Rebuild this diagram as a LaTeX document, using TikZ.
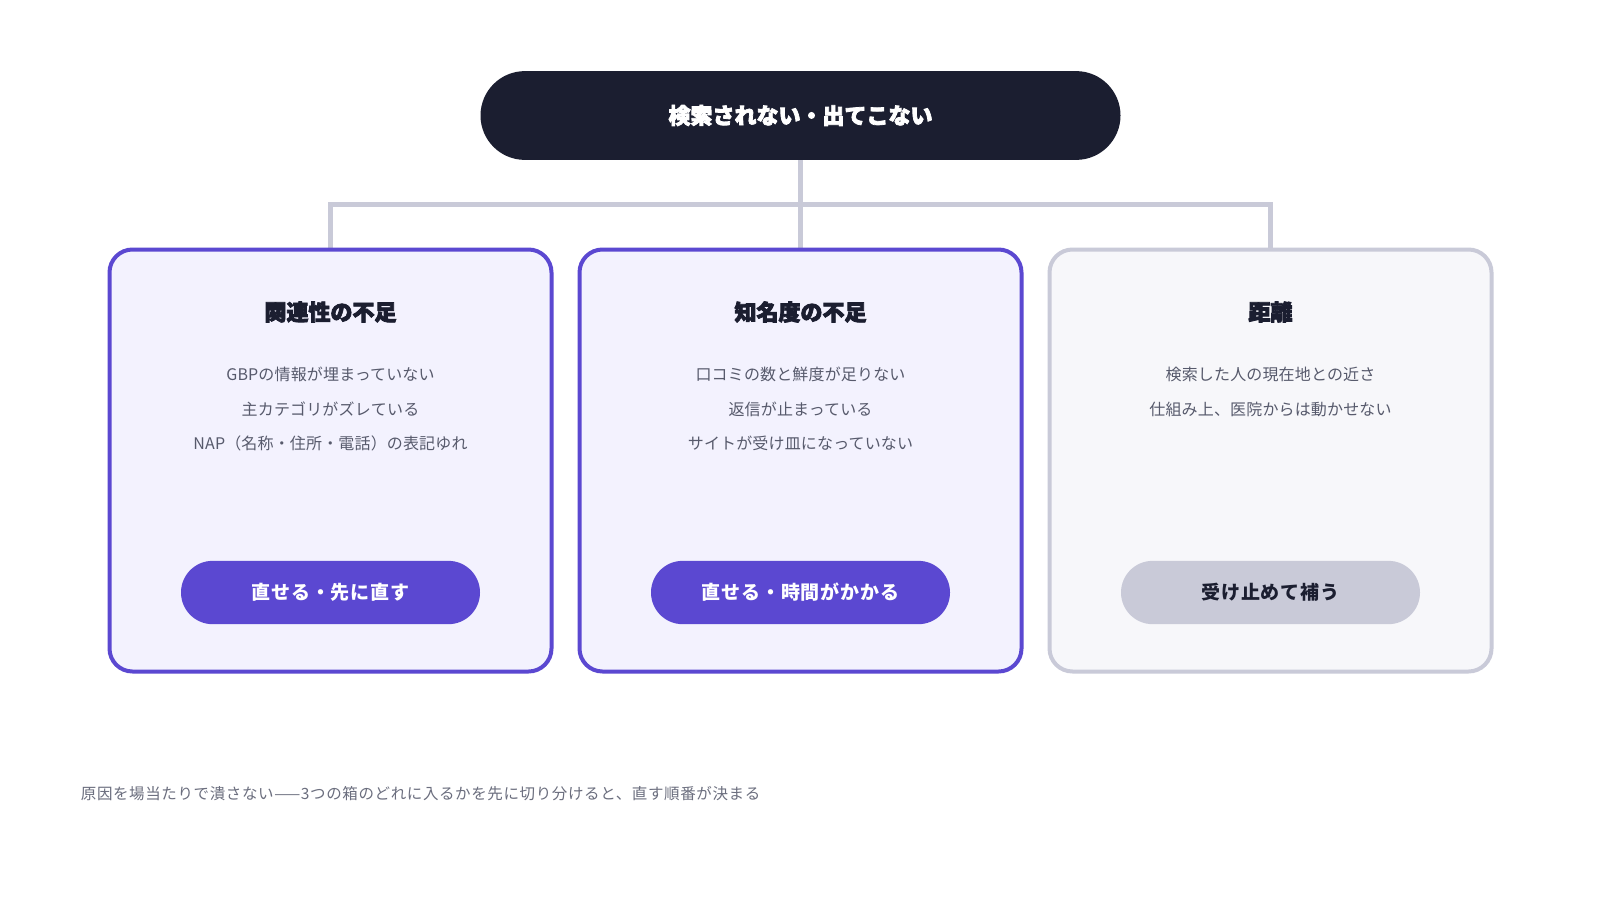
\documentclass[tikz,border=0pt]{standalone}
\usepackage{fontspec}
\usetikzlibrary{calc,backgrounds}
\setmainfont{Noto Sans CJK JP}
\newfontfamily\jpbody[LetterSpace=1]{Noto Sans CJK JP}
\newfontfamily\jpfoot[LetterSpace=4]{Noto Sans CJK JP}
\newfontfamily\jpbtn[LetterSpace=5]{Noto Sans CJK JP}
\newfontfamily\jphead[FakeBold=3.5]{Noto Sans CJK JP}
\definecolor{navy}{HTML}{1B1E30}
\definecolor{purp}{HTML}{5B48D1}
\definecolor{purpfill}{HTML}{F3F2FE}
\definecolor{conn}{HTML}{C9CAD8}
\definecolor{greyfill}{HTML}{F7F7FA}
\definecolor{bodytxt}{HTML}{575A6C}
\definecolor{foottxt}{HTML}{6B6E7E}
\tikzset{
  pill/.style={fill=navy, text=white, minimum width=640pt, minimum height=88.8pt, rounded corners=44.4pt, inner sep=0pt, font=\jphead\bfseries\fontsize{22}{26}\selectfont},
  cardP/.style={draw=purp, line width=4pt, fill=purpfill, minimum width=442pt, minimum height=422pt, rounded corners=23pt, inner sep=0pt},
  cardG/.style={draw=conn, line width=4pt, fill=greyfill, minimum width=442pt, minimum height=422pt, rounded corners=23pt, inner sep=0pt},
  ctitle/.style={text=navy, font=\jphead\bfseries\fontsize{22}{26}\selectfont, inner sep=0pt},
  citem/.style={text=bodytxt, font=\jpbody\fontsize{16}{19}\selectfont, inner sep=0pt},
  btnP/.style={fill=purp, text=white, minimum width=299pt, minimum height=63.3pt, rounded corners=31.6pt, inner sep=0pt, font=\jpbtn\bfseries\fontsize{19}{23}\selectfont},
  btnG/.style={fill=conn, text=navy, minimum width=299pt, minimum height=63.3pt, rounded corners=31.6pt, inner sep=0pt, font=\jpbtn\bfseries\fontsize{19}{23}\selectfont},
  connline/.style={draw=conn, line width=4.5pt},
  foot/.style={text=foottxt, font=\jpfoot\fontsize{15.5}{19}\selectfont, inner sep=0pt, anchor=west}
}
\begin{document}
\begin{tikzpicture}[x=1pt,y=-1pt]
\useasboundingbox (0,0) rectangle (1600,900);

\node[pill] (top) at (800.5,115.5) {検索されない・出てこない};

\node[cardP] (b1) at (330.5,460.5) {};
\node[cardP] (b2) at (800.5,460.5) {};
\node[cardG] (b3) at (1270.5,460.5) {};

\coordinate (hub) at (800.5,204.5);
\begin{scope}[on background layer]
\fill[white] (0,0) rectangle (1600,900);
\draw[connline] (top.south) -- (b2.north);
\draw[connline] (b1.north) |- (hub) -| (b3.north);
\end{scope}

% card 1
\node[ctitle] (t1) at ($(b1.north)+(0,64.5)$) {関連性の不足};
\node[citem] (i11) at ($(b1.north)+(0,127)$) {GBPの情報が埋まっていない};
\node[citem] (i12) at ($(b1.north)+(0,161.6)$) {主カテゴリがズレている};
\node[citem] (i13) at ($(b1.north)+(0,196.3)$) {NAP（名称・住所・電話）の表記ゆれ};
\node[btnP] (k1) at ($(b1.north)+(0,345)$) {直せる・先に直す};

% card 2
\node[ctitle] (t2) at ($(b2.north)+(0,64.5)$) {知名度の不足};
\node[citem] (i21) at ($(b2.north)+(0,127)$) {口コミの数と鮮度が足りない};
\node[citem] (i22) at ($(b2.north)+(0,161.6)$) {返信が止まっている};
\node[citem] (i23) at ($(b2.north)+(0,196.3)$) {サイトが受け皿になっていない};
\node[btnP] (k2) at ($(b2.north)+(0,345)$) {直せる・時間がかかる};

% card 3
\node[ctitle] (t3) at ($(b3.north)+(0,64.5)$) {距離};
\node[citem] (i31) at ($(b3.north)+(0,127)$) {検索した人の現在地との近さ};
\node[citem] (i32) at ($(b3.north)+(0,161.6)$) {仕組み上、医院からは動かせない};
\node[btnG] (k3) at ($(b3.north)+(0,345)$) {受け止めて補う};

\node[foot] (f) at (80.7,794) {原因を場当たりで潰さない——3つの箱のどれに入るかを先に切り分けると、直す順番が決まる};
\end{tikzpicture}
\end{document}
